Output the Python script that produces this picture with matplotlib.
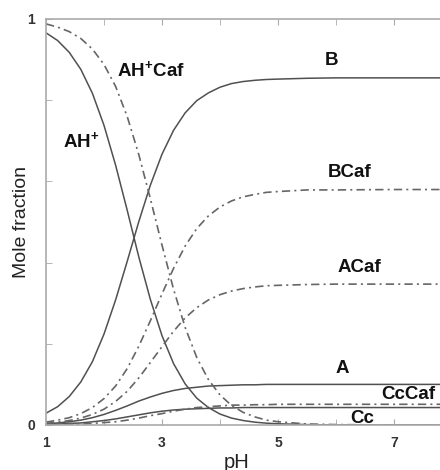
import matplotlib
matplotlib.use("Agg")
import matplotlib.pyplot as plt

plt.rcParams['font.family'] = ['Liberation Sans', 'DejaVu Sans']
plt.rcParams['mathtext.fontset'] = 'custom'
plt.rcParams['mathtext.rm'] = 'Liberation Sans'
plt.rcParams['mathtext.bf'] = 'Liberation Sans:bold'

pH = [1.0, 1.2, 1.4, 1.6, 1.8, 2.0, 2.2, 2.4, 2.6, 2.8, 3.0, 3.2, 3.4, 3.6, 3.8,
      4.0, 4.2, 4.4, 4.6, 4.8, 5.0, 5.5, 6.0, 7.0, 7.8]

AHp = [0.966, 0.947, 0.918, 0.876, 0.817, 0.738, 0.640, 0.529, 0.414, 0.309, 0.220,
       0.151, 0.101, 0.066, 0.043, 0.027, 0.017, 0.011, 0.007, 0.0045, 0.003, 0.001,
       0.0, 0.0, 0.0]
B = [0.029, 0.045, 0.070, 0.106, 0.156, 0.224, 0.308, 0.403, 0.501, 0.591, 0.667,
     0.726, 0.769, 0.799, 0.818, 0.832, 0.841, 0.846, 0.849, 0.851, 0.852, 0.854,
     0.855, 0.855, 0.855]
A = [0.003, 0.005, 0.008, 0.012, 0.018, 0.026, 0.036, 0.047, 0.059, 0.069, 0.078,
     0.085, 0.090, 0.093, 0.096, 0.097, 0.098, 0.099, 0.099, 0.100, 0.100, 0.100,
     0.100, 0.100, 0.100]
Cc = [0.001, 0.002, 0.004, 0.005, 0.008, 0.011, 0.015, 0.020, 0.025, 0.030, 0.034,
      0.037, 0.039, 0.040, 0.041, 0.042, 0.042, 0.043, 0.043, 0.043, 0.043, 0.043,
      0.043, 0.043, 0.043]

AHpCaf = [0.988, 0.980, 0.969, 0.952, 0.926, 0.888, 0.834, 0.760, 0.666, 0.557, 0.443,
          0.334, 0.240, 0.166, 0.112, 0.074, 0.048, 0.031, 0.020, 0.012, 0.008, 0.0025,
          0.001, 0.0, 0.0]
BCaf = [0.007, 0.012, 0.018, 0.028, 0.043, 0.065, 0.096, 0.139, 0.194, 0.257, 0.323,
        0.386, 0.441, 0.484, 0.515, 0.537, 0.552, 0.562, 0.568, 0.573, 0.575, 0.579,
        0.579, 0.580, 0.580]
ACaf = [0.004, 0.007, 0.011, 0.017, 0.026, 0.039, 0.058, 0.083, 0.116, 0.154, 0.193,
        0.231, 0.264, 0.289, 0.308, 0.321, 0.330, 0.336, 0.340, 0.343, 0.344, 0.346,
        0.347, 0.347, 0.347]
CcCaf = [0.001, 0.001, 0.002, 0.002, 0.004, 0.006, 0.008, 0.012, 0.017, 0.023, 0.028,
         0.034, 0.039, 0.043, 0.045, 0.047, 0.049, 0.049, 0.050, 0.050, 0.051, 0.051,
         0.051, 0.051, 0.051]

solid_series = [AHp, B, A, Cc]
dash_series = [AHpCaf, BCaf, ACaf, CcCaf]

labels = [r'AH$^{\mathbf{+}}$Caf', r'AH$^{\mathbf{+}}$', 'B', 'BCaf', 'ACaf', 'A', 'CcCaf', 'Cc']
label_x = [2.81, 1.61, 5.92, 6.23, 6.41, 6.10, 7.24, 6.45]
label_y = [0.874, 0.697, 0.899, 0.621, 0.389, 0.138, 0.074, 0.017]

xticks_major = [1, 3, 5, 7]
xticks_minor = [2, 4, 6]

fig = plt.figure(figsize=(4.4, 4.7), dpi=100)
ax = fig.add_axes([46/440, 1-425/470, 1-46/440, (425-19)/470])

for s in solid_series:
    ax.plot(pH, s, color='#505050', lw=1.1, solid_capstyle='round')
for s in dash_series:
    ax.plot(pH, s, color='#666666', lw=1.2, dashes=(5, 2.5, 1.2, 2.5))

for t, x, y in zip(labels, label_x, label_y):
    ax.text(x, y, t, ha='center', va='center', fontsize=13.5, fontweight='bold', color='#111111')

ax.set_xlim(1, 1 + (440-46)/58)
ax.set_ylim(0, 1)
ax.set_xticks(xticks_major)
ax.set_xticks(xticks_minor, minor=True)
ax.set_xticklabels([str(v) for v in xticks_major], fontsize=10, fontweight='bold', color='#333333')
ax.set_yticks([0, 1])
ax.set_yticks([0.2, 0.4, 0.6, 0.8], minor=True)
ax.set_yticklabels(['0', '1'], fontsize=10, fontweight='bold', color='#333333')
ax.tick_params(which='both', direction='in', length=4, color='#aaaaaa', top=True, right=False)
ax.tick_params(axis='x', pad=8)
ax.tick_params(axis='y', pad=8)
for side in ['left', 'bottom', 'top']:
    ax.spines[side].set_color('#aaaaaa')
    ax.spines[side].set_linewidth(1.2)
ax.spines['right'].set_visible(False)

fig.text(22/440, 1-222/470, 'Mole fraction', rotation=90, ha='center', va='center', fontsize=14, color='#222222')
fig.text(237/440, 1-462/470, 'pH', ha='center', va='center', fontsize=14.5, color='#222222')

fig.savefig('out.png', dpi=100)
